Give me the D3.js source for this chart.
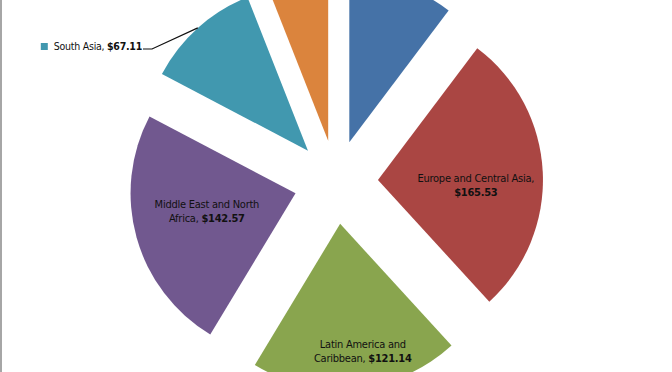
<!DOCTYPE html>
<html>
<head>
<meta charset="utf-8">
<script src="https://cdn.jsdelivr.net/npm/d3@7"></script>
<style>
  html, body { margin: 0; padding: 0; background: #fff; }
  svg { display: block; }
  text { font-family: "Liberation Sans Narrow", "DejaVu Sans Condensed", "Liberation Sans", sans-serif; fill: #111; letter-spacing: -0.25px; }
</style>
</head>
<body>
<svg id="chart" width="672" height="372"></svg>
<script>
// regions, clockwise from 12 o'clock
const categories = ["East Asia and Pacific", "Europe and Central Asia", "Latin America and Caribbean",
                    "Middle East and North Africa", "South Asia", "Sub-Saharan Africa"];
const values = [60.9, 165.53, 121.14, 142.57, 67.11, 35.4];
const labelLines = [null, ["Europe and Central Asia,", ""], ["Latin America and", "Caribbean, "],
                    ["Middle East and North", "Africa, "], null, null];
const colors = ["#4572A7", "#AA4643", "#89A54E", "#71588F", "#4198AF", "#DB843D"];

const cx = 336, cy = 182, radius = 165, explode = 42;

const svg = d3.select('#chart');
svg.append('rect').attr('width', 672).attr('height', 372).attr('fill', '#fff');
svg.append('line').attr('x1', 1).attr('x2', 1).attr('y1', 0).attr('y2', 372)
  .attr('stroke', '#a6a6a6').attr('stroke-width', 2);

let pie = d3.pie().sort(null).value(d => d);
let arc = d3.arc().innerRadius(0).outerRadius(radius);
let arcs = pie(values);

function polar(r, a) { return [Math.sin(a) * r, -Math.cos(a) * r]; }
function mid(d) { return (d.startAngle + d.endAngle) / 2; }

let g = svg.append('g').attr('transform', `translate(${cx},${cy})`);

g.selectAll('path')
  .data(arcs)
  .join('path')
  .attr('d', arc)
  .attr('fill', (d, i) => colors[i])
  .attr('transform', d => {
    let p = polar(explode, mid(d));
    return `translate(${p[0]},${p[1]})`;
  });

// inside labels: radius from the slice tip plus small nudge
const labelLayout = { 1: [98, 0, 10], 2: [128, 10, 0], 3: [90, -2, -6] };
Object.keys(labelLayout).forEach(k => {
  let i = +k, d = arcs[i], a = mid(d);
  let [r, nx, ny] = labelLayout[k];
  let tip = polar(explode, a), p = polar(r, a);
  let x = tip[0] + p[0] + nx, y = tip[1] + p[1] + ny;
  let t = g.append('text').attr('text-anchor', 'middle').style('font-size', '11px');
  t.append('tspan').attr('x', x).attr('y', y - 3).text(labelLines[i][0]);
  let l2 = t.append('tspan').attr('x', x).attr('y', y + 11);
  if (labelLines[i][1]) l2.append('tspan').text(labelLines[i][1]);
  l2.append('tspan').style('font-weight', 'bold').text('$' + d3.format('.2f')(values[i]));
});

// outside label for South Asia with leader line
{
  let i = 4, d = arcs[i], a = mid(d);
  let tip = polar(explode, a), edge = polar(radius, a);
  let ex = tip[0] + edge[0], ey = tip[1] + edge[1];
  let elbowX = 152 - cx, elbowY = 49 - cy;
  g.append('path')
    .attr('d', `M${ex},${ey}L${elbowX},${elbowY}L${elbowX - 9},${elbowY}`)
    .attr('fill', 'none').attr('stroke', '#111').attr('stroke-width', 1.2);
  let t = g.append('text').attr('text-anchor', 'end')
    .attr('x', elbowX - 10).attr('y', elbowY + 1).style('font-size', '10.5px');
  t.append('tspan').text(categories[i] + ', ');
  t.append('tspan').style('font-weight', 'bold').text('$' + d3.format('.2f')(values[i]));
  let bb = t.node().getBBox();
  g.append('rect').attr('x', bb.x - 13).attr('y', elbowY - 6).attr('width', 7).attr('height', 7)
    .attr('fill', colors[i]);
}
</script>
</body>
</html>
